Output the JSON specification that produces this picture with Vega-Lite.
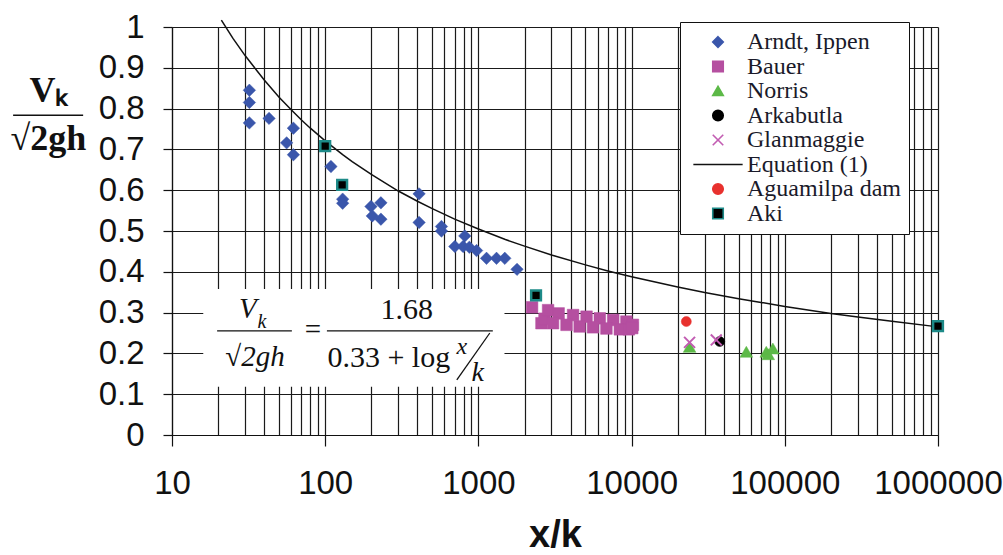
{
  "$schema": "https://vega.github.io/schema/vega-lite/v6.json",
  "width": 766,
  "height": 408,
  "autosize": {"type": "none"},
  "padding": {"left": 172, "top": 27, "right": 65, "bottom": 120},
  "background": "white",
  "config": {
    "view": {"stroke": null},
    "legend": {
      "orient": "none", "legendX": 508, "legendY": -5, "title": null,
      "fillColor": "white", "strokeColor": "#111", "padding": 8,
      "labelFont": "Liberation Serif", "labelFontSize": 24, "labelColor": "#1a1a2a", "labelLimit": 400,
      "symbolSize": 110, "symbolStrokeWidth": 1.6, "rowPadding": 0.5, "symbolOffset": 18, "labelOffset": 17
    }
  },
  "datasets": {
    "pts": [
      {"series": "Arndt, Ippen", "xk": 32, "v": 0.845},
      {"series": "Arndt, Ippen", "xk": 32, "v": 0.815},
      {"series": "Arndt, Ippen", "xk": 32, "v": 0.765},
      {"series": "Arndt, Ippen", "xk": 43, "v": 0.776},
      {"series": "Arndt, Ippen", "xk": 62, "v": 0.752},
      {"series": "Arndt, Ippen", "xk": 56, "v": 0.716},
      {"series": "Arndt, Ippen", "xk": 62, "v": 0.687},
      {"series": "Arndt, Ippen", "xk": 109, "v": 0.658},
      {"series": "Arndt, Ippen", "xk": 130, "v": 0.578},
      {"series": "Arndt, Ippen", "xk": 130, "v": 0.568},
      {"series": "Arndt, Ippen", "xk": 199, "v": 0.56},
      {"series": "Arndt, Ippen", "xk": 231, "v": 0.569},
      {"series": "Arndt, Ippen", "xk": 203, "v": 0.537},
      {"series": "Arndt, Ippen", "xk": 231, "v": 0.529},
      {"series": "Arndt, Ippen", "xk": 410, "v": 0.591},
      {"series": "Arndt, Ippen", "xk": 410, "v": 0.521},
      {"series": "Arndt, Ippen", "xk": 574, "v": 0.511},
      {"series": "Arndt, Ippen", "xk": 574, "v": 0.5},
      {"series": "Arndt, Ippen", "xk": 815, "v": 0.488},
      {"series": "Arndt, Ippen", "xk": 702, "v": 0.462},
      {"series": "Arndt, Ippen", "xk": 795, "v": 0.462},
      {"series": "Arndt, Ippen", "xk": 873, "v": 0.46},
      {"series": "Arndt, Ippen", "xk": 973, "v": 0.452},
      {"series": "Arndt, Ippen", "xk": 1130, "v": 0.433},
      {"series": "Arndt, Ippen", "xk": 1313, "v": 0.433},
      {"series": "Arndt, Ippen", "xk": 1487, "v": 0.433},
      {"series": "Arndt, Ippen", "xk": 1787, "v": 0.406},
      {"series": "Bauer", "xk": 2240, "v": 0.313},
      {"series": "Bauer", "xk": 2580, "v": 0.274},
      {"series": "Bauer", "xk": 2700, "v": 0.285},
      {"series": "Bauer", "xk": 2850, "v": 0.306},
      {"series": "Bauer", "xk": 3340, "v": 0.298},
      {"series": "Bauer", "xk": 4150, "v": 0.294},
      {"series": "Bauer", "xk": 5080, "v": 0.29},
      {"series": "Bauer", "xk": 6200, "v": 0.286},
      {"series": "Bauer", "xk": 7590, "v": 0.282},
      {"series": "Bauer", "xk": 9250, "v": 0.278},
      {"series": "Bauer", "xk": 10200, "v": 0.27},
      {"series": "Bauer", "xk": 3070, "v": 0.274},
      {"series": "Bauer", "xk": 3760, "v": 0.27},
      {"series": "Bauer", "xk": 4580, "v": 0.266},
      {"series": "Bauer", "xk": 5600, "v": 0.264},
      {"series": "Bauer", "xk": 6850, "v": 0.261},
      {"series": "Bauer", "xk": 8380, "v": 0.259},
      {"series": "Bauer", "xk": 9600, "v": 0.259},
      {"series": "Bauer", "xk": 10100, "v": 0.262},
      {"series": "Norris", "xk": 23900, "v": 0.216},
      {"series": "Norris", "xk": 56100, "v": 0.204},
      {"series": "Norris", "xk": 75700, "v": 0.204},
      {"series": "Norris", "xk": 78000, "v": 0.198},
      {"series": "Norris", "xk": 83600, "v": 0.212},
      {"series": "Arkabutla", "xk": 37600, "v": 0.229},
      {"series": "Glanmaggie", "xk": 23900, "v": 0.227},
      {"series": "Glanmaggie", "xk": 35700, "v": 0.233},
      {"series": "Aguamilpa dam", "xk": 22760, "v": 0.278},
      {"series": "Aki", "xk": 100, "v": 0.708},
      {"series": "Aki", "xk": 129, "v": 0.613},
      {"series": "Aki", "xk": 2378, "v": 0.342},
      {"series": "Aki", "xk": 1000000, "v": 0.267}
    ],
    "eq": [
      {"xk": 21, "v": 1.017}, {"xk": 25, "v": 0.972}, {"xk": 30, "v": 0.93},
      {"xk": 40, "v": 0.87}, {"xk": 50, "v": 0.828}, {"xk": 60, "v": 0.797},
      {"xk": 70, "v": 0.772}, {"xk": 80, "v": 0.752}, {"xk": 100, "v": 0.721},
      {"xk": 130, "v": 0.687}, {"xk": 150, "v": 0.67}, {"xk": 200, "v": 0.639},
      {"xk": 300, "v": 0.598}, {"xk": 400, "v": 0.573}, {"xk": 500, "v": 0.555},
      {"xk": 700, "v": 0.529}, {"xk": 1000, "v": 0.505}, {"xk": 1500, "v": 0.479},
      {"xk": 2000, "v": 0.463}, {"xk": 3000, "v": 0.441}, {"xk": 5000, "v": 0.417},
      {"xk": 7000, "v": 0.402}, {"xk": 10000, "v": 0.388}, {"xk": 20000, "v": 0.363},
      {"xk": 30000, "v": 0.349}, {"xk": 50000, "v": 0.334}, {"xk": 70000, "v": 0.325},
      {"xk": 100000, "v": 0.315}, {"xk": 200000, "v": 0.298}, {"xk": 300000, "v": 0.289},
      {"xk": 500000, "v": 0.279}, {"xk": 1000000, "v": 0.265}
    ]
  },
  "layer": [
    {
      "data": {"name": "eq"},
      "mark": {"type": "line", "color": "#111", "strokeWidth": 1.5, "clip": false},
      "encoding": {
        "x": {
          "field": "xk", "type": "quantitative",
          "scale": {"type": "log", "domain": [10, 1000000], "nice": false},
          "axis": {
            "values": [10,20,30,40,50,60,70,80,90,100,200,300,400,500,600,700,800,900,1000,2000,3000,4000,5000,6000,7000,8000,9000,10000,20000,30000,40000,50000,60000,70000,80000,90000,100000,200000,300000,400000,500000,600000,700000,800000,900000,1000000],
            "labelExpr": "indexof([10,100,1000,10000,100000,1000000], datum.value) >= 0 ? format(datum.value, 'd') : ''",
            "labelOverlap": false, "labelFlush": false,
            "labelFont": "Liberation Sans", "labelFontSize": 33, "labelColor": "#111", "labelPadding": 21,
            "tickSize": 11, "tickColor": "#111", "tickWidth": 1.2,
            "tickOpacity": {"condition": {"test": "indexof([10,100,1000,10000,100000,1000000], datum.value) >= 0", "value": 1}, "value": 0},
            "grid": true, "gridColor": "#1a1a1a", "gridWidth": 1.2, "gridOpacity": 1,
            "domainColor": "#111", "domainWidth": 1.2,
            "title": "x/k", "titleFont": "Liberation Sans", "titleFontSize": 38, "titleFontWeight": "bold", "titleColor": "#111",
            "titleX": 383, "titleY": 111, "titleBaseline": "alphabetic", "titleAlign": "center", "titleAnchor": null,
            "encode": {"labels": {"update": {"dx": {"signal": "datum.value === 1000000 ? -8 : 0"}}}}
          }
        },
        "y": {
          "field": "v", "type": "quantitative",
          "scale": {"domain": [0, 1], "nice": false},
          "axis": {
            "values": [0, 0.1, 0.2, 0.3, 0.4, 0.5, 0.6, 0.7, 0.8, 0.9, 1],
            "format": "~g",
            "labelFont": "Liberation Sans", "labelFontSize": 33, "labelColor": "#111", "labelPadding": 19,
            "tickSize": 9, "tickColor": "#111", "tickWidth": 1.2,
            "grid": true, "gridColor": "#1a1a1a", "gridWidth": 1.2, "gridOpacity": 1,
            "domainColor": "#111", "domainWidth": 1.2,
            "title": ["Vₖ", "√2gh"], "titleAngle": 0, "titleFont": "Liberation Serif", "titleFontWeight": "bold",
            "titleFontSize": 36, "titleLineHeight": 48, "titleColor": "#111",
            "titleX": -124, "titleY": 74, "titleAlign": "center", "titleBaseline": "alphabetic"
          }
        }
      }
    },
    {
      "data": {"values": [{}]},
      "mark": {"type": "rect", "fill": "white"},
      "encoding": {
        "x": {"datum": 16}, "x2": {"datum": 1480},
        "y": {"datum": 0.358}, "y2": {"datum": 0.118}
      }
    },
    {
      "data": {"name": "pts"},
      "mark": {"type": "point", "filled": true, "opacity": 1},
      "encoding": {
        "x": {"field": "xk", "type": "quantitative"},
        "y": {"field": "v", "type": "quantitative"},
        "fill": {
          "field": "series", "type": "nominal",
          "scale": {
            "domain": ["Arndt, Ippen", "Bauer", "Norris", "Arkabutla", "Glanmaggie", "Equation (1)", "Aguamilpa dam", "Aki"],
            "range": ["#3a56ab", "#b54fa0", "#5cb947", "#000000", "transparent", "transparent", "#e8312e", "#000000"]
          }
        },
        "stroke": {
          "field": "series", "type": "nominal",
          "scale": {
            "domain": ["Arndt, Ippen", "Bauer", "Norris", "Arkabutla", "Glanmaggie", "Equation (1)", "Aguamilpa dam", "Aki"],
            "range": ["#3a56ab", "#b54fa0", "#5cb947", "#000000", "#c25cb2", "#111111", "#e8312e", "#1d8a88"]
          }
        },
        "shape": {
          "field": "series", "type": "nominal",
          "scale": {
            "domain": ["Arndt, Ippen", "Bauer", "Norris", "Arkabutla", "Glanmaggie", "Equation (1)", "Aguamilpa dam", "Aki"],
            "range": ["M0,-1L1,0L0,1L-1,0Z", "square", "triangle-up", "circle", "M-1,-1L1,1M1,-1L-1,1", "M-4.7,0L4.7,0", "circle", "square"]
          }
        },
        "size": {
          "condition": [
            {"test": "datum.series === 'Arndt, Ippen'", "value": 155},
            {"test": "datum.series === 'Bauer'", "value": 135},
            {"test": "datum.series === 'Norris'", "value": 160},
            {"test": "datum.series === 'Glanmaggie'", "value": 120},
            {"test": "datum.series === 'Aki'", "value": 95}
          ],
          "value": 100
        },
        "strokeWidth": {
          "condition": [
            {"test": "datum.series === 'Aki'", "value": 2.5},
            {"test": "datum.series === 'Glanmaggie'", "value": 2}
          ],
          "value": 0.5
        }
      }
    },
    {
      "data": {"values": [{}]},
      "mark": {"type": "text", "text": "V", "font": "Liberation Serif", "fontStyle": "italic", "fontSize": 29, "color": "#111", "baseline": "middle", "align": "center"},
      "encoding": {"x": {"datum": 31.3}, "y": {"datum": 0.309}}
    },
    {
      "data": {"values": [{}]},
      "mark": {"type": "text", "text": "k", "font": "Liberation Serif", "fontStyle": "italic", "fontSize": 20, "color": "#111", "baseline": "middle", "align": "center"},
      "encoding": {"x": {"datum": 38.6}, "y": {"datum": 0.277}}
    },
    {
      "data": {"values": [{}]},
      "mark": {"type": "rule", "color": "#111", "strokeWidth": 1.3},
      "encoding": {"x": {"datum": 19.7}, "x2": {"datum": 60.6}, "y": {"datum": 0.255}}
    },
    {
      "data": {"values": [{}]},
      "mark": {"type": "text", "text": "√2gh", "font": "Liberation Serif", "fontStyle": "italic", "fontSize": 29, "color": "#111", "baseline": "middle", "align": "center"},
      "encoding": {"x": {"datum": 34.8}, "y": {"datum": 0.191}}
    },
    {
      "data": {"values": [{}]},
      "mark": {"type": "text", "text": "=", "font": "Liberation Serif", "fontSize": 29, "color": "#111", "baseline": "middle", "align": "center"},
      "encoding": {"x": {"datum": 83.2}, "y": {"datum": 0.257}}
    },
    {
      "data": {"values": [{}]},
      "mark": {"type": "text", "text": "1.68", "font": "Liberation Serif", "fontSize": 30, "color": "#111", "baseline": "middle", "align": "center"},
      "encoding": {"x": {"datum": 341}, "y": {"datum": 0.306}}
    },
    {
      "data": {"values": [{}]},
      "mark": {"type": "rule", "color": "#111", "strokeWidth": 1.3},
      "encoding": {"x": {"datum": 102.6}, "x2": {"datum": 1242}, "y": {"datum": 0.255}}
    },
    {
      "data": {"values": [{}]},
      "mark": {"type": "text", "text": "0.33 + log", "font": "Liberation Serif", "fontSize": 30, "color": "#111", "baseline": "middle", "align": "center"},
      "encoding": {"x": {"datum": 260}, "y": {"datum": 0.189}}
    },
    {
      "data": {"values": [{}]},
      "mark": {"type": "text", "text": "x", "font": "Liberation Serif", "fontStyle": "italic", "fontSize": 24, "color": "#111", "baseline": "middle", "align": "center"},
      "encoding": {"x": {"datum": 780}, "y": {"datum": 0.216}}
    },
    {
      "data": {"values": [{}]},
      "mark": {"type": "rule", "color": "#111", "strokeWidth": 1.3},
      "encoding": {"x": {"datum": 723}, "x2": {"datum": 1187}, "y": {"datum": 0.135}, "y2": {"datum": 0.25}}
    },
    {
      "data": {"values": [{}]},
      "mark": {"type": "text", "text": "k", "font": "Liberation Serif", "fontStyle": "italic", "fontSize": 28, "color": "#111", "baseline": "middle", "align": "center"},
      "encoding": {"x": {"datum": 991}, "y": {"datum": 0.152}}
    },
    {
      "data": {"values": [{}]},
      "mark": {"type": "rule", "color": "#111", "strokeWidth": 1.5, "clip": false},
      "encoding": {"x": {"datum": 0.918}, "x2": {"datum": 2.63}, "y": {"datum": 0.784}}
    }
  ]
}
